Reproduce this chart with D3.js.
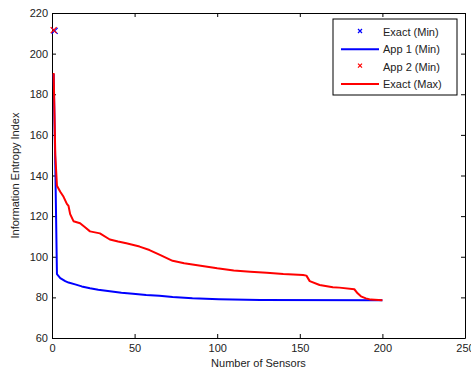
<!DOCTYPE html>
<html>
<head>
<meta charset="utf-8">
<script src="https://cdn.jsdelivr.net/npm/d3@7"></script>
<style>
  body { margin: 0; background: #fff; }
  svg { display: block; font-family: "Liberation Sans", Arial, sans-serif; }
  .axis text { font-size: 11px; fill: #222; }
</style>
</head>
<body>
<div class="graphic"></div>
<script>
// Exact (Max) curve
var maxSensors = [1, 2, 3, 5, 7, 9, 10, 11, 13, 17, 20, 23, 29, 35, 40, 45, 53, 59, 65, 73, 80, 90, 100, 110, 120, 130, 140, 152, 154, 156, 162, 170, 174, 183, 185, 187, 190, 193, 200];
var exactMax = [190.5, 150, 135, 132, 129.5, 126, 125, 121, 117.5, 116.5, 114.5, 112.5, 111.5, 108.5, 107.5, 106.6, 105, 103.3, 101, 98, 96.8, 95.6, 94.3, 93.2, 92.6, 92.1, 91.5, 91, 90.7, 88, 86.1, 85, 84.8, 84, 82, 80.5, 79.5, 78.9, 78.6];

// App 1 (Min) curve
var app1Sensors = [1, 2, 3, 5, 8, 10, 14, 18, 23, 28, 35, 42, 49, 57, 65, 73, 85, 101, 126, 200];
var app1Min = [190, 145, 91.5, 89.5, 88, 87.3, 86.4, 85.4, 84.5, 83.8, 83, 82.3, 81.8, 81.2, 80.8, 80.2, 79.6, 79.1, 78.7, 78.6];

// single point results
var exactMinPoint = [1, 211.2];
var app2MinPoint = [1, 211.6];

var xTicks = [0, 50, 100, 150, 200, 250];
var yTicks = [60, 80, 100, 120, 140, 160, 180, 200, 220];

var legendNames = ["Exact (Min)", "App 1 (Min)", "App 2 (Min)", "Exact (Max)"];
var legendColors = ["#0000ff", "#0000ff", "#ff0000", "#ff0000"];
var legendKinds = ["mark", "line", "mark", "line"];

var width = 471, height = 371;
var margin = {left: 52, right: 6, top: 13, bottom: 33};

var svg = d3.select(".graphic").append("svg")
  .attr("width", width).attr("height", height);

var x = d3.scaleLinear().domain([0, 250]).range([margin.left, width - margin.right]);
var y = d3.scaleLinear().domain([60, 220]).range([height - margin.bottom, margin.top]);

// axes, ticks pointing inward like matlab
svg.append("g").attr("class", "axis")
  .attr("transform", "translate(0," + y(60) + ")")
  .call(d3.axisBottom(x).tickValues(xTicks).tickSize(-4).tickSizeOuter(0).tickPadding(6));
svg.append("g").attr("class", "axis")
  .attr("transform", "translate(" + x(0) + ",0)")
  .call(d3.axisLeft(y).tickValues(yTicks).tickSize(-4).tickSizeOuter(0).tickPadding(4));
svg.append("g").attr("class", "axis")
  .attr("transform", "translate(0," + y(220) + ")")
  .call(d3.axisTop(x).tickValues(xTicks).tickSize(-4).tickSizeOuter(0).tickFormat(""));
svg.append("g").attr("class", "axis")
  .attr("transform", "translate(" + x(250) + ",0)")
  .call(d3.axisRight(y).tickValues(yTicks).tickSize(-4).tickSizeOuter(0).tickFormat(""));

svg.selectAll(".axis .domain").attr("stroke", "#000");
svg.selectAll(".axis .tick line").attr("stroke", "#000");

var line = d3.line()
  .x(function(d) { return x(d[0]); })
  .y(function(d) { return y(d[1]); });

svg.append("path")
  .datum(d3.zip(app1Sensors, app1Min))
  .attr("d", line)
  .attr("fill", "none")
  .attr("stroke", "#0000ff")
  .attr("stroke-width", 2)
  .attr("stroke-linejoin", "round");

svg.append("path")
  .datum(d3.zip(maxSensors, exactMax))
  .attr("d", line)
  .attr("fill", "none")
  .attr("stroke", "#ff0000")
  .attr("stroke-width", 2)
  .attr("stroke-linejoin", "round");

function cross(g, cx, cy, r, color) {
  g.append("path")
    .attr("d", "M" + (cx - r) + "," + (cy - r) + "L" + (cx + r) + "," + (cy + r) +
               "M" + (cx - r) + "," + (cy + r) + "L" + (cx + r) + "," + (cy - r))
    .attr("stroke", color)
    .attr("stroke-width", 1.2);
}

cross(svg, x(exactMinPoint[0]) + 1, y(exactMinPoint[1]), 3, "#0000ff");
cross(svg, x(app2MinPoint[0]), y(app2MinPoint[1]), 3, "#ff0000");

// axis titles
svg.append("text")
  .attr("x", (x(0) + x(250)) / 2)
  .attr("y", 367)
  .attr("text-anchor", "middle")
  .attr("font-size", 11)
  .attr("fill", "#222")
  .text("Number of Sensors");

svg.append("text")
  .attr("transform", "translate(19," + (y(60) + y(220)) / 2 + ") rotate(-90)")
  .attr("text-anchor", "middle")
  .attr("font-size", 11)
  .attr("fill", "#222")
  .text("Information Entropy Index");

// legend
var legend = svg.append("g").attr("transform", "translate(333,19)");
legend.append("rect")
  .attr("width", 124).attr("height", 76)
  .attr("fill", "#fff").attr("stroke", "#000");

legendNames.forEach(function(name, i) {
  var ly = 13 + i * 17.3;
  if (legendKinds[i] === "line") {
    legend.append("line")
      .attr("x1", 8).attr("x2", 46)
      .attr("y1", ly).attr("y2", ly)
      .attr("stroke", legendColors[i]).attr("stroke-width", 2);
  } else {
    cross(legend, 27, ly - 1, 2, legendColors[i]);
  }
  legend.append("text")
    .attr("x", 50).attr("y", ly + 4)
    .attr("font-size", 11)
    .attr("fill", "#222")
    .text(name);
});
</script>
</body>
</html>
